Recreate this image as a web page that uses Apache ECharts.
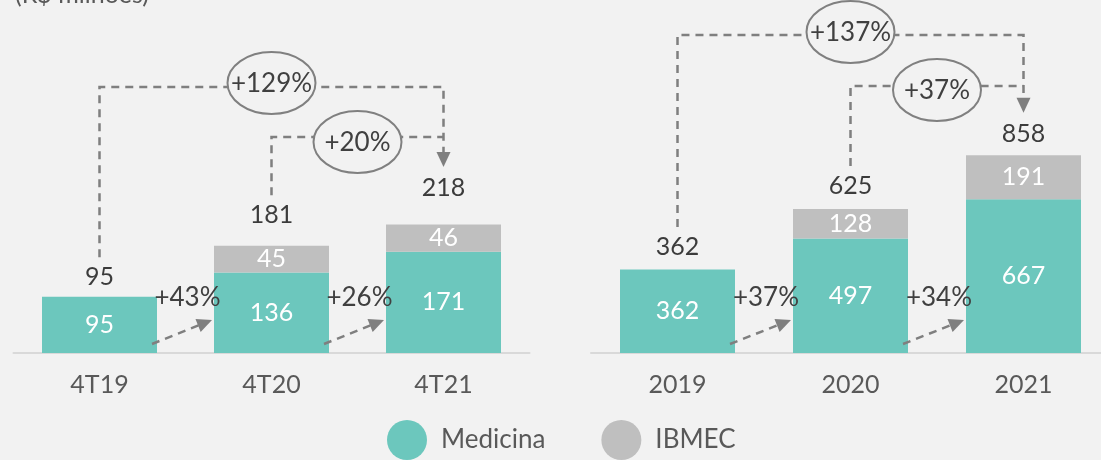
<!DOCTYPE html>
<html>
<head>
<meta charset="utf-8">
<script src="https://cdn.jsdelivr.net/npm/echarts@6/dist/echarts.min.js"></script>
<style>
  html, body { margin: 0; padding: 0; background: #f2f2f2; }
  #chart { width: 1101px; height: 460px; }
</style>
</head>
<body>
<div id="chart"></div>
<script>
  // dados (R$ milhões)
  const quarters = ['4T19', '4T20', '4T21'];
  const years = ['2019', '2020', '2021'];
  const medicinaQ = [95, 136, 171];
  const ibmecQ = [0, 45, 46];
  const totalQ = [95, 181, 218];
  const medicinaY = [362, 497, 667];
  const ibmecY = [0, 128, 191];
  const totalY = [362, 625, 858];
  const stepGrowthQ = ['+43%', '+26%'];
  const stepGrowthY = ['+37%', '+34%'];
  const spanGrowthQ = ['+129%', '+20%']; // 4T19->4T21, 4T20->4T21
  const spanGrowthY = ['+137%', '+37%']; // 2019->2021, 2020->2021

  const FONT = 'Lato';
  const TEAL = '#6cc7bd';
  const GREY = '#bfbfbf';
  const DASH = '#7f7f7f';

  const panels = [
    {cats: quarters, med: medicinaQ, ibm: ibmecQ, tot: totalQ, step: stepGrowthQ, span: spanGrowthQ,
     max: 596, lift: [19.5, 30.5, 36], bigY: 87, smallY: 137, bigDy: -4, smallDy: 5},
    {cats: years, med: medicinaY, ibm: ibmecY, tot: totalY, step: stepGrowthY, span: spanGrowthY,
     max: 1531, lift: [22.5, 23, 21.5], bigY: 35, smallY: 86, bigDy: -3, smallDy: 4}
  ];

  const chart = echarts.init(document.getElementById('chart'));

  const barLabel = {
    show: true,
    position: 'inside',
    color: '#ffffff',
    fontSize: 25,
    fontFamily: FONT,
    formatter: p => (p.value ? p.value : '')
  };

  const series = [];
  panels.forEach((p, i) => {
    series.push({
      name: 'Medicina', type: 'bar', stack: 's' + i, xAxisIndex: i, yAxisIndex: i,
      barWidth: 115, itemStyle: {color: TEAL}, label: barLabel, data: p.med
    });
    series.push({
      name: 'IBMEC', type: 'bar', stack: 's' + i, xAxisIndex: i, yAxisIndex: i,
      barWidth: 115, itemStyle: {color: GREY}, label: barLabel, data: p.ibm
    });
    series.push({
      name: 'total', type: 'scatter', xAxisIndex: i, yAxisIndex: i, symbolSize: 0, silent: true,
      data: p.tot.map((v, k) => ({value: v, label: {offset: [0, -p.lift[k]]}})),
      label: {show: true, position: 'inside', color: '#0d0d0d', fontSize: 25, fontFamily: FONT}
    });
  });

  const option = {
    backgroundColor: '#f2f2f2',
    animation: false,
    textStyle: {fontFamily: FONT},
    legend: {
      data: ['Medicina', 'IBMEC'],
      icon: 'circle',
      itemWidth: 40,
      itemHeight: 40,
      itemGap: 56,
      left: 387,
      top: 420,
      padding: 0,
      textStyle: {color: '#595959', fontSize: 26, fontFamily: FONT, padding: [0, 0, 0, 9]}
    },
    grid: [
      {left: 13.5, width: 516, top: 0, bottom: 107, outerBoundsMode: 'none'},
      {left: 591, width: 519, top: 0, bottom: 107, outerBoundsMode: 'none'}
    ],
    xAxis: panels.map((p, i) => ({
      type: 'category', gridIndex: i, data: p.cats,
      axisTick: {show: false},
      axisLine: {lineStyle: {color: '#d9d9d9', width: 2}},
      axisLabel: {color: '#595959', fontSize: 25, margin: 19, fontFamily: FONT}
    })),
    yAxis: panels.map((p, i) => ({
      type: 'value', gridIndex: i, min: 0, max: p.max, show: false, splitLine: {show: false}
    })),
    series: series
  };
  chart.setOption(option);

  // anotações (setas tracejadas, elipses e percentuais)
  const graphics = [];
  const dashStyle = {stroke: DASH, lineWidth: 2.5, lineDash: [8, 6], fill: null};

  function arrowHead(tx, ty, angle) {
    const len = 15, hw = 7;
    const ca = Math.cos(angle), sa = Math.sin(angle);
    const bx = tx - len * ca, by = ty - len * sa;
    return {
      type: 'polygon', silent: true, z: 10,
      shape: {points: [[tx, ty], [bx - hw * sa, by + hw * ca], [bx + hw * sa, by - hw * ca]]},
      style: {fill: DASH}
    };
  }
  function text(x, y, s, color) {
    return {
      type: 'text', x: x, y: y, silent: true, z: 30,
      style: {text: s, font: '26px ' + FONT, fill: color, align: 'center', verticalAlign: 'middle'}
    };
  }

  panels.forEach((p, i) => {
    const pt = (k, v) => chart.convertToPixel({gridIndex: i}, [p.cats[k], v]);
    const base = pt(0, 0)[1];
    const cx = [0, 1, 2].map(k => pt(k, 0)[0]);
    const labelY = [0, 1, 2].map(k => pt(k, p.tot[k])[1] - p.lift[k]);
    const half = 57.5;

    // setas entre barras
    for (let k = 0; k < 2; k++) {
      const x0 = cx[k] + half - 5, y0 = base - 9;
      const x1 = cx[k + 1] - half - 2, y1 = base - 33;
      const ang = Math.atan2(y1 - y0, x1 - x0);
      graphics.push({
        type: 'polyline', silent: true, z: 10,
        shape: {points: [[x0, y0], [x1 - 13 * Math.cos(ang), y1 - 13 * Math.sin(ang)]]},
        style: dashStyle
      });
      graphics.push(arrowHead(x1, y1, ang));
      graphics.push(text((cx[k] + cx[k + 1]) / 2 + 2, base - 55, p.step[k], '#404040'));
    }

    // colchetes de crescimento
    const tipY = labelY[2] - 21;
    graphics.push({
      type: 'polyline', silent: true, z: 10,
      shape: {points: [[cx[0], labelY[0] - 20], [cx[0], p.bigY], [cx[2], p.bigY], [cx[2], tipY - 13]]},
      style: dashStyle
    });
    graphics.push({
      type: 'polyline', silent: true, z: 10,
      shape: {points: [[cx[1], labelY[1] - 20], [cx[1], p.smallY], [cx[2], p.smallY]]},
      style: dashStyle
    });
    graphics.push(arrowHead(cx[2], tipY, Math.PI / 2));

    const bigC = [cx[1], p.bigY + p.bigDy];
    const smallC = [(cx[1] + cx[2]) / 2, p.smallY + p.smallDy];
    [[bigC, p.span[0]], [smallC, p.span[1]]].forEach(([c, s]) => {
      graphics.push({
        type: 'ellipse', silent: true, z: 20,
        shape: {cx: c[0], cy: c[1], rx: 44, ry: 31},
        style: {fill: '#f2f2f2', stroke: '#808080', lineWidth: 2}
      });
      graphics.push(text(c[0], c[1] + 1, s, '#404040'));
    });
  });

  graphics.push({
    type: 'text', x: 15, y: -5, silent: true,
    style: {text: '(R$ milhões)', font: '25px ' + FONT, fill: '#595959', align: 'left', verticalAlign: 'middle'}
  });

  chart.setOption({graphic: graphics});
</script>
</body>
</html>
